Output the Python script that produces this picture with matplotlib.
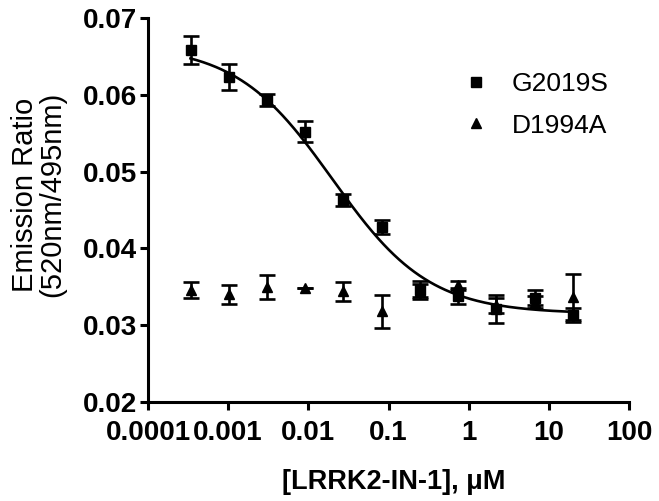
"""LRRK2-IN-1 dose response: emission ratio for G2019S and D1994A."""

import numpy as np
import matplotlib
matplotlib.use('Agg')
import matplotlib.pyplot as plt
from matplotlib.ticker import LogLocator, NullFormatter, FixedLocator

plt.rcParams['font.family'] = ['Liberation Sans', 'DejaVu Sans']

# concentrations, uM (3-fold dilution series)
conc = [0.000339, 0.00102, 0.00305, 0.00914, 0.0274, 0.0823,
        0.247, 0.741, 2.22, 6.67, 20.0]

g2019s = [0.0658, 0.0623, 0.0593, 0.0552, 0.0463, 0.0428,
          0.0346, 0.0338, 0.0321, 0.0336, 0.0313]
g2019s_err = [0.0018, 0.0017, 0.0008, 0.0014, 0.0008, 0.0009,
              0.0012, 0.0010, 0.0018, 0.0010, 0.0009]

d1994a = [0.0346, 0.0340, 0.0350, 0.0349, 0.0344, 0.0318,
          0.0345, 0.0352, 0.0326, 0.0330, 0.0337]
d1994a_err = [0.0010, 0.0012, 0.0016, 0.0, 0.0012, 0.0021,
              0.0008, 0.0006, 0.0010, 0.0008, 0.0030]

# four-parameter logistic fit for G2019S
fit_top = 0.0665
fit_bottom = 0.0315
fit_ic50 = 0.020
fit_hill = 0.72

x_ticks = [0.0001, 0.001, 0.01, 0.1, 1, 10, 100]
x_ticklabels = ['0.0001', '0.001', '0.01', '0.1', '1', '10', '100']
y_ticks = [0.02, 0.03, 0.04, 0.05, 0.06, 0.07]

fig = plt.figure(figsize=(6.59, 5.01), dpi=100)
ax = fig.add_axes([0.2246, 0.1976, 0.7299, 0.7665])

xs = np.logspace(np.log10(conc[0]), np.log10(conc[-1]), 300)
curve = fit_bottom + (fit_top - fit_bottom) / (1 + (xs / fit_ic50) ** fit_hill)
ax.plot(xs, curve, color='black', lw=1.9, zorder=2)

ax.errorbar(conc, g2019s, yerr=g2019s_err, fmt='s', color='black', ms=6.5,
            elinewidth=1.9, capsize=5.5, capthick=1.9, zorder=3, label='G2019S')
ax.errorbar(conc, d1994a, yerr=d1994a_err, fmt='^', color='black', ms=7,
            elinewidth=1.9, capsize=5.5, capthick=1.9, zorder=3, label='D1994A')

ax.set_xscale('log')
ax.set_xlim(0.0001, 100)
ax.set_ylim(0.02, 0.07)
ax.xaxis.set_major_locator(FixedLocator(x_ticks))
ax.set_xticklabels(x_ticklabels)
ax.xaxis.set_minor_locator(LogLocator(base=10, subs=np.arange(2, 10)))
ax.xaxis.set_minor_formatter(NullFormatter())
ax.set_yticks(y_ticks)
ax.set_yticklabels([f'{v:.2f}' for v in y_ticks])

for side in ['top', 'right']:
    ax.spines[side].set_visible(False)
for side in ['left', 'bottom']:
    ax.spines[side].set_linewidth(2.2)

ax.tick_params(axis='both', which='major', direction='out', length=6, width=2.2,
               labelsize=20)
ax.tick_params(axis='x', which='major', pad=7)
ax.tick_params(axis='y', which='major', pad=2)
ax.tick_params(axis='x', which='minor', direction='out', length=3.5, width=1.6)
for lab in ax.get_xticklabels() + ax.get_yticklabels():
    lab.set_fontweight('bold')

ax.set_xlabel('[LRRK2-IN-1], μM', fontsize=19.5, fontweight='bold')
ax.xaxis.set_label_coords(0.51, -0.175)
ax.set_ylabel('Emission Ratio\n(520nm/495nm)', fontsize=21, linespacing=0.95)
ax.yaxis.set_label_coords(-0.17, 0.54)

handles, labels = ax.get_legend_handles_labels()
leg = ax.legend([h[0] for h in handles], labels, loc='upper left',
                bbox_to_anchor=(0.60, 0.92), frameon=False, fontsize=19,
                handletextpad=0.75, labelspacing=0.65, handlelength=1.2)

fig.savefig('out.png', dpi=100)
